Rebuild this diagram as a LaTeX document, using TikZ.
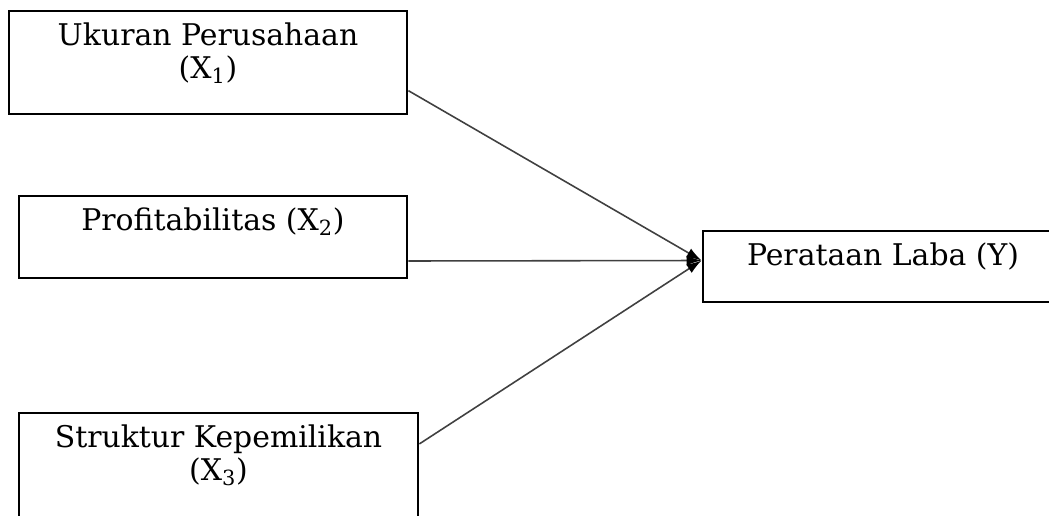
\documentclass[tikz,border=0pt]{standalone}
\usepackage{fontspec}
\setmainfont{DejaVu Serif}
\usetikzlibrary{arrows.meta,positioning}

\begin{document}
\begin{tikzpicture}[
  >={Latex[length=0.3cm, width=0.2cm, color=black]},
  varbox/.style={draw, line width=1.6pt, inner sep=0pt},
  varlabel/.style={font=\fontsize{17}{18.5}\selectfont, align=center, anchor=north,
                   inner sep=0pt, yshift=-0.26cm},
  arr/.style={->, line width=0.9pt, draw=black!75},
]

% Frame of the figure
\clip (0,0) rectangle (20.98,-10.30);

% Independent variables
\node[varbox, minimum width=7.96cm, minimum height=2.06cm,
      label={[varlabel]north:Ukuran Perusahaan\\(X\textsubscript{1})}] (UP) at (4.16,-1.25) {};
\node[varbox, minimum width=7.76cm, minimum height=1.64cm,
      label={[varlabel]north:Profitabilitas (X\textsubscript{2})}] (PR) at (4.26,-4.74) {};
\node[varbox, minimum width=7.98cm, minimum height=2.08cm,
      label={[varlabel]north:Struktur Kepemilikan\\(X\textsubscript{3})}] (SK) at (4.37,-9.30) {};

% Dependent variable
\node[varbox, minimum width=7.2cm, minimum height=1.42cm,
      label={[varlabel]north:Perataan Laba (Y)}] (PL) at (17.66,-5.33) {};
\coordinate (hub) at ([yshift=0.12cm]PL.west);

% --- arrows ---
\draw[arr] (UP.-8.7) -- (hub);
\draw[arr] (PR.-7.3) -- (hub);
\draw[arr] (SK.6.6) -- (hub);

\end{tikzpicture}
\end{document}
